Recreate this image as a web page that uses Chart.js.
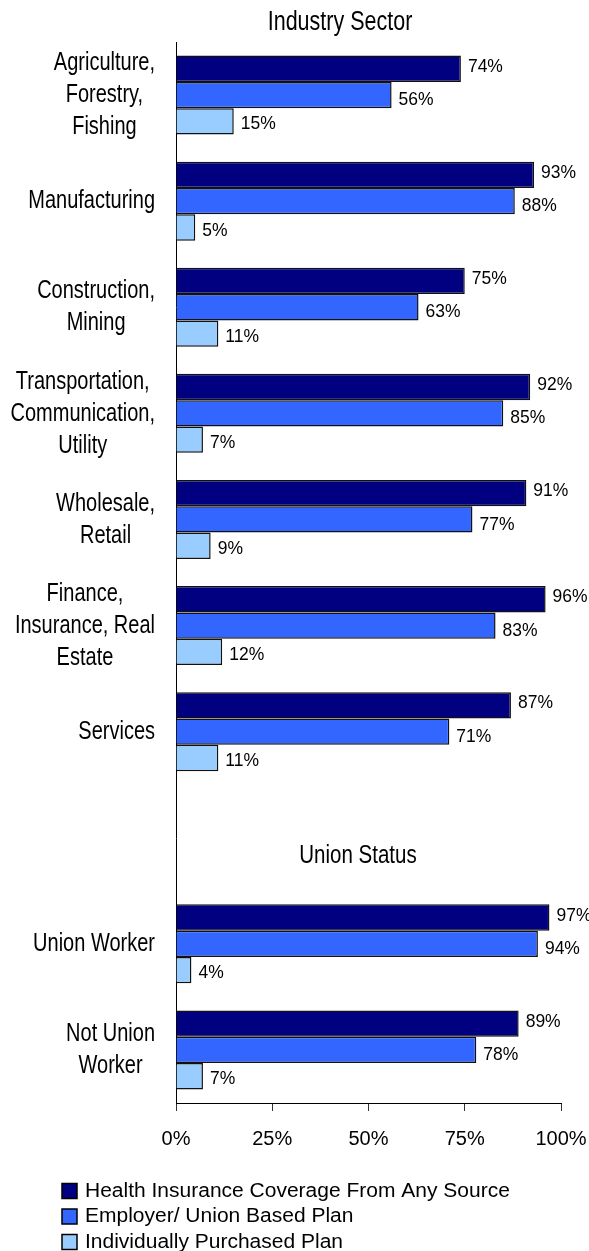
<!DOCTYPE html>
<html>
<head>
  <meta charset="utf-8">
  <title>Health Insurance Coverage by Industry Sector and Union Status</title>
  <style>
    body {
      margin: 0;
      background: #fff;
    }
    .chart-box {
      width: 589px;
      height: 1251px;
    }
  </style>
</head>
<body>
  <div class="chart-box">
    <canvas id="coverageChart"></canvas>
  </div>

  <script src="https://cdn.jsdelivr.net/npm/chart.js"></script>
  <script>
    // categories (the empty slot holds the "Union Status" heading)
    const categories = [
      ['Agriculture,', 'Forestry,', 'Fishing'],
      ['Manufacturing'],
      ['Construction,', 'Mining'],
      ['Transportation,', 'Communication,', 'Utility'],
      ['Wholesale,', 'Retail'],
      ['Finance,', 'Insurance, Real', 'Estate'],
      ['Services'],
      [''],
      ['Union Worker'],
      ['Not Union', 'Worker']
    ];
    const seriesNames = [
      'Health Insurance Coverage From Any Source',
      'Employer/ Union Based Plan',
      'Individually Purchased Plan'
    ];
    const anySource  = [74, 93, 75, 92, 91, 96, 87, null, 97, 89];
    const employer   = [56, 88, 63, 85, 77, 83, 71, null, 94, 78];
    const individual = [15, 5, 11, 7, 9, 12, 11, null, 4, 7];
    const xTicks = [0, 25, 50, 75, 100];
    const sectionTitles = ['Industry Sector', 'Union Status'];

    const colors = ['#000080', '#3366ff', '#99ccff'];
    const FONT = '"Liberation Sans", Arial, sans-serif';

    // text drawn slightly stretched in height, like the original picture
    function tallText(ctx, text, x, y, size, align, sy) {
      ctx.save();
      ctx.font = size + 'px ' + FONT;
      ctx.fillStyle = '#000';
      ctx.textAlign = align;
      ctx.textBaseline = 'middle';
      ctx.translate(x, y);
      ctx.scale(1, sy);
      ctx.fillText(text, 0, 0);
      ctx.restore();
    }

    // y labels, section headings, value labels and legend
    const extras = {
      id: 'extras',
      afterDatasetsDraw(chart) {
        const ctx = chart.ctx;
        const y = chart.scales.y;
        const area = chart.chartArea;

        // category labels: lines centred on each other, block right aligned
        ctx.font = '20px ' + FONT;
        categories.forEach((lines, i) => {
          const cy = y.getPixelForValue(i);
          const widest = Math.max(...lines.map(t => ctx.measureText(t).width));
          const cx = area.left - 21 - widest / 2;
          const lh = 32;
          const top = cy - (lines.length - 1) * lh / 2;
          lines.forEach((t, k) => tallText(ctx, t, cx, top + k * lh, 20, 'center', 1.3));
        });

        // headings
        tallText(ctx, sectionTitles[0], 340, area.top - 19, 21.5, 'center', 1.25);
        tallText(ctx, sectionTitles[1], 358, y.getPixelForValue(7) + 18, 20.5, 'center', 1.25);

        // value labels
        const offs = [-2, 5, 3];
        chart.data.datasets.forEach((ds, d) => {
          chart.getDatasetMeta(d).data.forEach((bar, i) => {
            if (ds.data[i] == null) return;
            tallText(ctx, ds.data[i] + '%', bar.x + 7, bar.y + offs[d], 17.5, 'left', 1.05);
          });
        });

        // legend
        chart.data.datasets.forEach((ds, d) => {
          const ly = 1191 + d * 25.5;
          ctx.save();
          ctx.fillStyle = ds.backgroundColor;
          ctx.strokeStyle = '#000';
          ctx.lineWidth = 1.5;
          ctx.fillRect(62, ly - 7.5, 15, 15);
          ctx.strokeRect(62, ly - 7.5, 15, 15);
          ctx.restore();
          tallText(ctx, ds.label, 85, ly, 21, 'left', 0.98);
        });
      }
    };

    const ctx = document.getElementById('coverageChart').getContext('2d');
    const coverageChart = new Chart(ctx, {
      type: 'bar',
      data: {
        labels: categories,
        datasets: [anySource, employer, individual].map((vals, d) => ({
          label: seriesNames[d],
          data: vals,
          backgroundColor: colors[d],
          borderColor: '#111',
          borderWidth: 1.5,
          categoryPercentage: 0.745,
          barPercentage: 1
        }))
      },
      options: {
        indexAxis: 'y',
        responsive: true,
        maintainAspectRatio: false,
        animation: false,
        layout: {
          padding: { top: 42, right: 28, bottom: 88, left: 0 }
        },
        plugins: {
          legend: { display: false },
          title: { display: false },
          tooltip: { enabled: false }
        },
        scales: {
          y: {
            type: 'category',
            grid: { display: false },
            border: { display: true, color: '#000', width: 1 },
            ticks: { display: false },
            afterFit(scale) { scale.width = 176; }
          },
          x: {
            type: 'linear',
            min: xTicks[0],
            max: xTicks[xTicks.length - 1],
            afterBuildTicks(scale) { scale.ticks = xTicks.map(v => ({ value: v })); },
            grid: {
              display: true,
              drawOnChartArea: false,
              drawTicks: true,
              tickLength: 8,
              color: '#333'
            },
            border: { display: true, color: '#000', width: 1 },
            ticks: {
              color: '#000',
              font: { family: FONT, size: 20 },
              padding: 16,
              callback: v => v + '%'
            },
            afterFit(scale) {
              scale.height = 60;
              scale.paddingLeft = 0;
              scale.paddingRight = 0;
            }
          }
        }
      },
      plugins: [extras]
    });
  </script>
</body>
</html>
